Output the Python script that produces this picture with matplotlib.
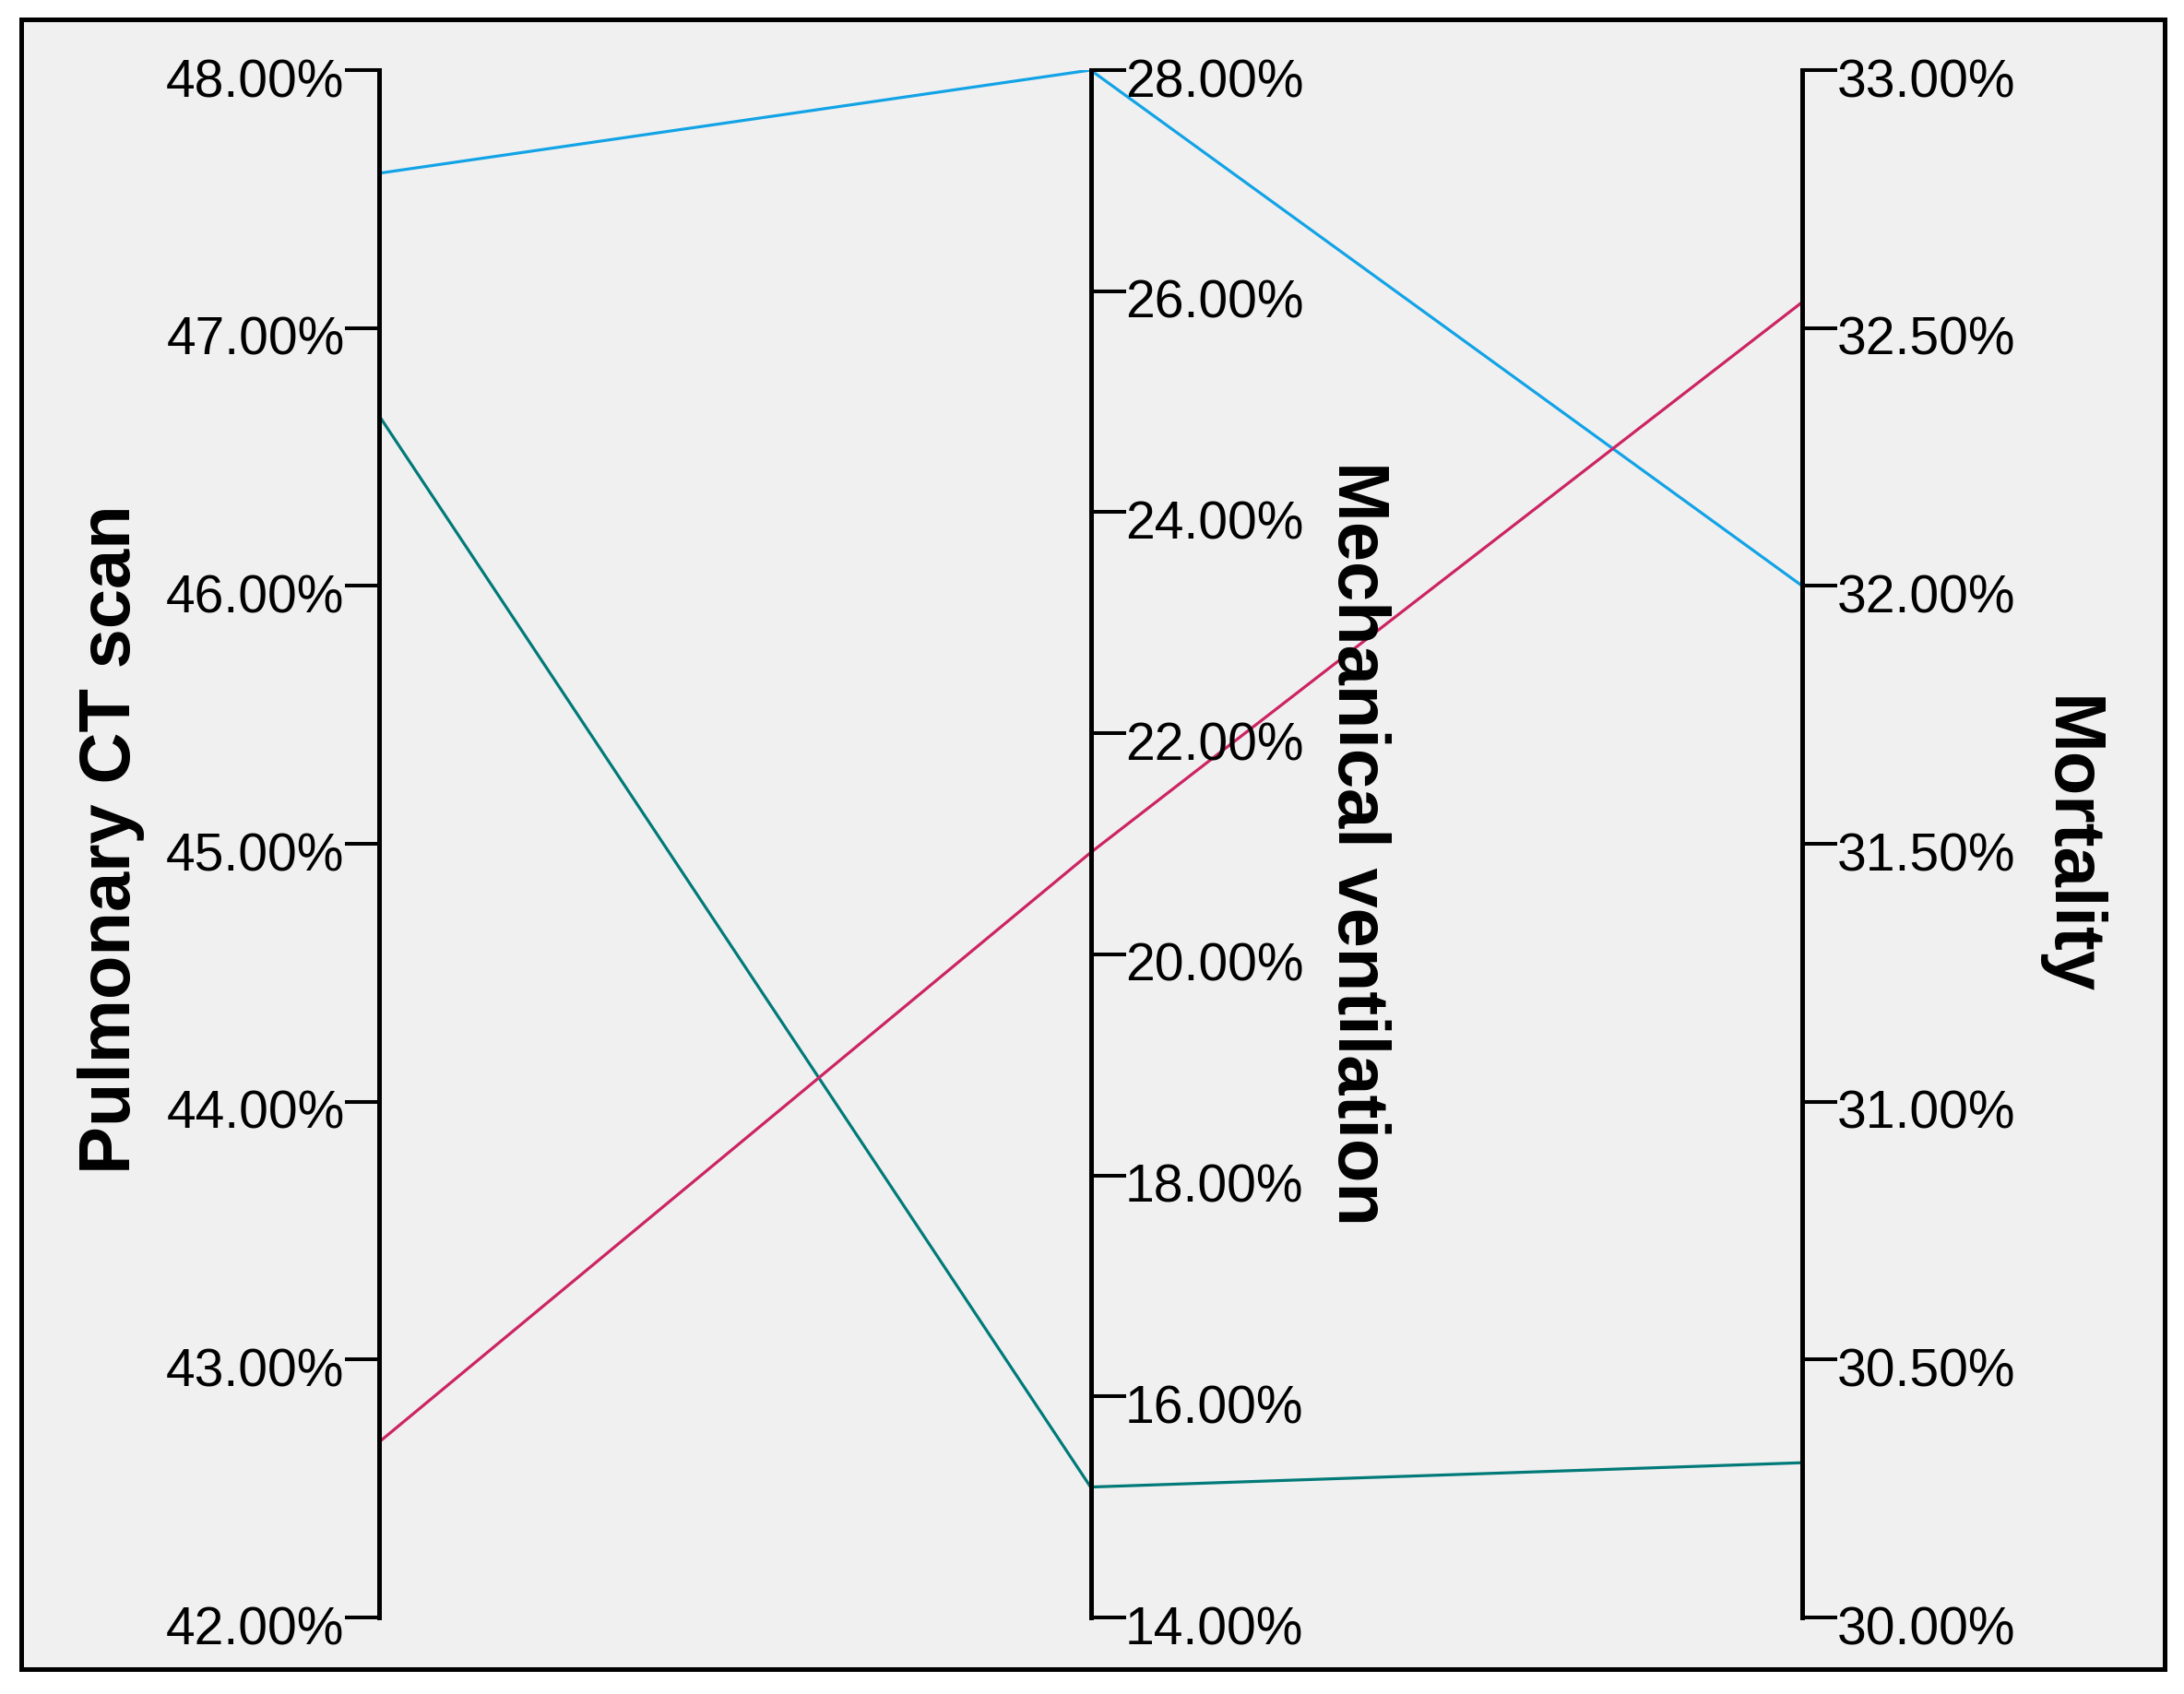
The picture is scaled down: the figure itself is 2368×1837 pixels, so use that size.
import numpy as np
import matplotlib.pyplot as plt
from matplotlib.patches import Rectangle
from matplotlib.transforms import ScaledTranslation

# Data (percentages)
dimensions = ['Pulmonary CT scan', 'Mechanical ventilation', 'Mortality']
series_blue = [47.60, 28.00, 32.00]
series_teal = [46.66, 15.18, 30.30]
series_pink = [42.68, 20.92, 32.55]
series_colors = ['#12a3e6', '#007a78', '#cc2462']

axis_ranges = [(42.0, 48.0), (14.0, 28.0), (30.0, 33.0)]
axis_ticks = [np.arange(42, 48.01, 1.0), np.arange(14, 28.01, 2.0), np.arange(30, 33.01, 0.5)]

W, H = 2368, 1837
fig = plt.figure(figsize=(W / 100, H / 100), dpi=100)
fig.patch.set_facecolor('white')
plt.rcParams['font.family'] = ['Liberation Sans', 'DejaVu Sans']

# grey panel with black border (behind everything)
panel = Rectangle((23 / W, 1 - 1810 / H), (2347 - 23) / W, (1810 - 21) / H,
                  transform=fig.transFigure, facecolor='#f0f0f0', edgecolor='black',
                  linewidth=3.6, zorder=-10)
fig.patches.append(panel)

left, right = 411 / W, 1954 / W
top, bottom = 1 - 76 / H, 1 - 1754 / H
ax = fig.add_axes([left, bottom, right - left, top - bottom])
ax.set_xlim(0, 2)
ax.set_ylim(0, 1)
ax.patch.set_visible(False)
for s in ax.spines.values():
    s.set_visible(False)
ax.set_xticks([])
ax.set_yticks([])

# normalise each value against its axis range
for vals, col in zip([series_blue, series_teal, series_pink], series_colors):
    norm = [(v - lo) / (hi - lo) for v, (lo, hi) in zip(vals, axis_ranges)]
    ax.plot([0, 1, 2], norm, color=col, linewidth=2.3, zorder=3, solid_capstyle='butt')

label_shift = ScaledTranslation(0, -8 / 100, fig.dpi_scale_trans)
positions = [0.0, 0.5, 1.0]
for i, ((lo, hi), ticks, pos) in enumerate(zip(axis_ranges, axis_ticks, positions)):
    sa = ax.twinx()
    sa.set_ylim(lo, hi)
    sa.patch.set_visible(False)
    for s in sa.spines.values():
        s.set_visible(False)
    side = 'left' if i == 0 else 'right'
    sa.spines[side].set_visible(True)
    sa.spines[side].set_position(('axes', pos))
    sa.spines[side].set_linewidth(3.6)
    sa.spines[side].set_zorder(2)
    sa.yaxis.set_ticks_position(side)
    sa.yaxis.set_label_position(side)
    sa.set_yticks(ticks)
    sa.set_yticklabels([f'{t:.2f}%' for t in ticks])
    sa.tick_params(axis='y', direction='out', length=27, width=2.9, pad=0,
                   labelsize=41, colors='black')
    for lab in sa.get_yticklabels():
        lab.set_transform(lab.get_transform() + label_shift)

# axis titles
fig.text(121 / W, 1 - 910 / H, dimensions[0], rotation=90, ha='center', va='center',
         fontsize=56, fontweight='bold')
fig.text(1472 / W, 1 - 915 / H, dimensions[1], rotation=-90, ha='center', va='center',
         fontsize=56, fontweight='bold')
fig.text(2243 / W, 1 - 917 / H, dimensions[2], rotation=-90, ha='center', va='center',
         fontsize=56, fontweight='bold')

fig.savefig('out.png', dpi=100)
